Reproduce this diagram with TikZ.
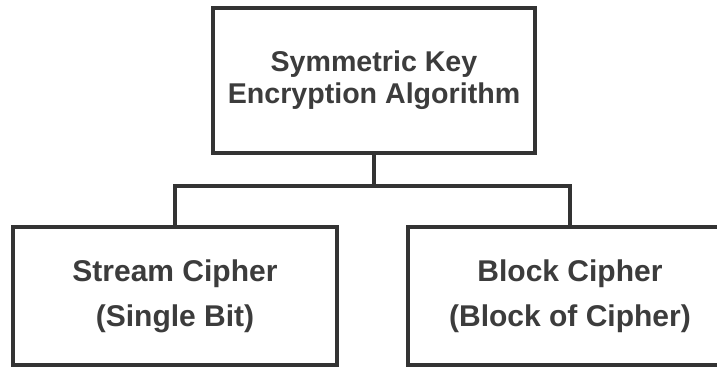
\documentclass[tikz,border=0pt]{standalone}
\usepackage{fontspec}
\setmainfont{Liberation Sans}
\definecolor{ink}{HTML}{333333}
\definecolor{txt}{HTML}{3C3C3C}
\begin{document}
\begin{tikzpicture}[x=1pt,y=-1pt,
  boxstyle/.style={draw=ink, line width=3.6pt, fill=white, align=center, text=txt, font=\bfseries, inner sep=0pt},
  conn/.style={draw=ink, line width=3.6pt}]
\useasboundingbox (0,0) rectangle (717,370);
\node[boxstyle, minimum width=322pt, minimum height=145pt, font=\bfseries\fontsize{28.6}{32}\selectfont] (top) at (374,80.5) {Symmetric Key\\Encryption Algorithm};
\node[boxstyle, minimum width=324pt, minimum height=138pt, font=\bfseries\fontsize{30}{45}\selectfont] (left) at (175,296) {Stream Cipher\\(Single Bit)};
\node[boxstyle, minimum width=324pt, minimum height=138pt, font=\bfseries\fontsize{30}{45}\selectfont] (right) at (570,296) {Block Cipher\\(Block of Cipher)};
\coordinate (junc) at (374,186);
\draw[conn] (top.south) -- (junc);
\draw[conn] (left.north) |- (junc) -| (right.north);
\end{tikzpicture}
\end{document}
